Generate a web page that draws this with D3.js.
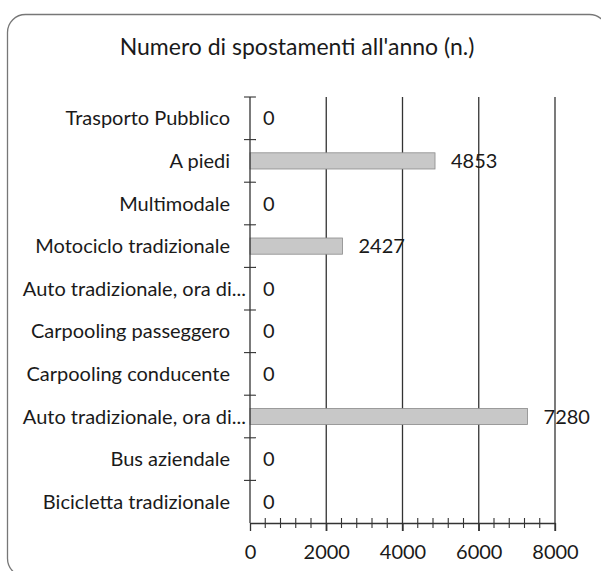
<!DOCTYPE html>
<html>
<head>
<meta charset="utf-8">
<script src="https://cdn.jsdelivr.net/npm/d3@7"></script>
<style>
  body { margin: 0; background: #fff; }
  text { font-family: Lato, "Open Sans", sans-serif; fill: #1a1a1a; }
</style>
</head>
<body>
<div id="chart"></div>
<script>
const title = "Numero di spostamenti all'anno (n.)";
const categories = ["Trasporto Pubblico", "A piedi", "Multimodale", "Motociclo tradizionale",
    "Auto tradizionale, ora di...", "Carpooling passeggero", "Carpooling conducente",
    "Auto tradizionale, ora di...", "Bus aziendale", "Bicicletta tradizionale"];
const values = [0, 4853, 0, 2427, 0, 0, 0, 7280, 0, 0];
const xTicks = [0, 2000, 4000, 6000, 8000];

const pageWidth = 601;
const pageHeight = 571;
const plotLeft = 250, plotRight = 555, plotTop = 97, plotBottom = 523;

const svg = d3.select("#chart")
    .append("svg")
    .attr("width", pageWidth)
    .attr("height", pageHeight);

// frame (runs a little past the page on the right and bottom)
svg.append("rect")
    .attr("x", 7.5).attr("y", 14.5)
    .attr("width", 600).attr("height", 562)
    .attr("rx", 18)
    .attr("fill", "none")
    .attr("stroke", "#777")
    .attr("stroke-width", 1.3);

svg.append("text")
    .attr("x", 297).attr("y", 55)
    .attr("text-anchor", "middle")
    .style("font-size", "23px")
    .text(title);

var x = d3.scaleLinear().domain([0, 8000]).range([plotLeft, plotRight]);
// index based so that bars keep their own row even with repeated names
var yBand = d3.scaleBand()
    .domain(d3.range(categories.length))
    .range([plotTop, plotBottom])
    .paddingInner(0.62)
    .paddingOuter(0.31);
var yEdge = d3.scaleLinear().domain([0, categories.length]).range([plotTop, plotBottom]);

// gridlines
svg.append("g")
    .selectAll("line")
    .data(xTicks.filter(d => d > 0))
    .enter().append("line")
    .attr("x1", d => x(d)).attr("x2", d => x(d))
    .attr("y1", plotTop).attr("y2", plotBottom + 8)
    .attr("stroke", "#333")
    .attr("stroke-width", 1.3);

// bars
svg.append("g")
    .selectAll("rect")
    .data(values)
    .enter().append("rect")
    .attr("x", x(0))
    .attr("y", (d, i) => yBand(i))
    .attr("width", d => x(d) - x(0))
    .attr("height", yBand.bandwidth())
    .attr("fill", "#c8c8c8")
    .attr("stroke", "#8a8a8a")
    .attr("stroke-width", 0.8);

// value labels
svg.append("g")
    .selectAll("text")
    .data(values)
    .enter().append("text")
    .attr("x", d => x(d) + (d > 0 ? 16 : 13))
    .attr("y", (d, i) => yBand(i) + yBand.bandwidth() / 2)
    .attr("dy", "0.35em")
    .style("font-size", "20px")
    .text(d => d);

// category axis: line plus ticks on row edges, crossing the line
svg.append("line")
    .attr("x1", plotLeft).attr("x2", plotLeft)
    .attr("y1", yEdge(0)).attr("y2", yEdge(categories.length))
    .attr("stroke", "#333")
    .attr("stroke-width", 1.3);
svg.append("g")
    .selectAll("line")
    .data(yEdge.ticks(categories.length).slice(0, -1))
    .enter().append("line")
    .attr("x1", plotLeft - 6).attr("x2", plotLeft + 6)
    .attr("y1", d => yEdge(d)).attr("y2", d => yEdge(d))
    .attr("stroke", "#333")
    .attr("stroke-width", 1.1);

// truncated labels run up to the axis, like in Excel
svg.append("g")
    .selectAll("text")
    .data(categories)
    .enter().append("text")
    .attr("x", d => d.endsWith("...") ? plotLeft - 4 : plotLeft - 20)
    .attr("y", (d, i) => yBand(i) + yBand.bandwidth() / 2)
    .attr("dy", "0.35em")
    .attr("text-anchor", "end")
    .style("font-size", "20px")
    .text(d => d);

// value axis with minor ticks
var minor = d3.range(0, 8001, 400).filter(d => d % 2000 !== 0);
svg.append("g")
    .attr("transform", "translate(0," + plotBottom + ")")
    .selectAll("line")
    .data(minor)
    .enter().append("line")
    .attr("x1", d => x(d)).attr("x2", d => x(d))
    .attr("y1", -5).attr("y2", 5)
    .attr("stroke", "#333")
    .attr("stroke-width", 1.1);

var xAxis = svg.append("g")
    .attr("transform", "translate(0," + plotBottom + ")")
    .call(d3.axisBottom(x).tickValues(xTicks).tickFormat(d3.format("d"))
        .tickSize(8).tickSizeOuter(0).tickPadding(14));
xAxis.select(".domain").attr("stroke", "#333").attr("stroke-width", 1.3);
xAxis.selectAll(".tick line").attr("stroke", "#333").attr("stroke-width", 1.3);
xAxis.selectAll(".tick text")
    .style("font-size", "20px")
    .style("font-family", "Lato, 'Open Sans', sans-serif")
    .attr("fill", "#1a1a1a");
</script>
</body>
</html>
